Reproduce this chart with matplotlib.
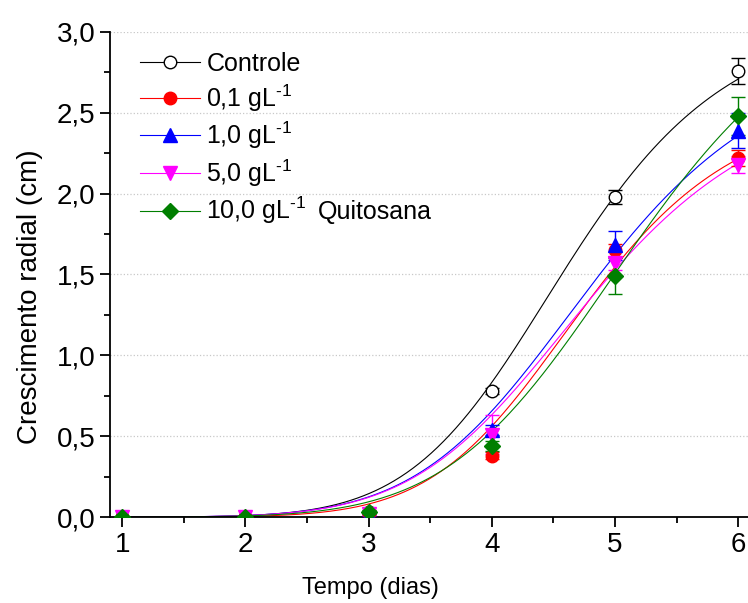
import numpy as np
import matplotlib
matplotlib.use("Agg")
import matplotlib.pyplot as plt
from matplotlib.lines import Line2D
from matplotlib.ticker import MultipleLocator, FuncFormatter

plt.rcParams['font.family'] = ['Liberation Sans', 'DejaVu Sans']
plt.rcParams['mathtext.fontset'] = 'custom'
plt.rcParams['mathtext.rm'] = 'Liberation Sans'
plt.rcParams['mathtext.default'] = 'regular'

# dados
dias = [1, 2, 3, 4, 5, 6]
labels = ["Controle", r"0,1 gL$^{\text{-1}}$", r"1,0 gL$^{\text{-1}}$",
          r"5,0 gL$^{\text{-1}}$", r"10,0 gL$^{\text{-1}}$"]

controle = [0, 0, 0.03, 0.78, 1.98, 2.76]
controle_err = [0, 0, 0.01, 0.02, 0.045, 0.08]
q01 = [0, 0, 0.025, 0.38, 1.65, 2.22]
q01_err = [0, 0, 0.01, 0.02, 0.04, 0.05]
q10 = [0, 0, 0.015, 0.54, 1.68, 2.39]
q10_err = [0, 0, 0.01, 0.03, 0.09, 0.11]
q50 = [0, 0, 0.02, 0.51, 1.57, 2.18]
q50_err = [0, 0, 0.01, 0.12, 0.04, 0.05]
q100 = [0, 0, 0.033, 0.44, 1.49, 2.48]
q100_err = [0, 0, 0.01, 0.03, 0.11, 0.12]

# parametros do ajuste logistico (A2, x0, p), A1 = 0
fit_A = [3.15, 2.6, 2.95, 2.7, 3.45]
fit_x0 = [4.63, 4.75, 4.85, 4.8, 5.2]
fit_p = [7, 7.5, 6.5, 6.5, 6.5]

series = [controle, q01, q10, q50, q100]
errors = [controle_err, q01_err, q10_err, q50_err, q100_err]
colors = ["black", "#ff0000", "#0000ff", "#ff00ff", "#007f00"]
markers = ["o", "o", "^", "v", "D"]
faces = ["white", "#ff0000", "#0000ff", "#ff00ff", "#007f00"]
msizes = [9, 9, 10, 10, 8]

fig = plt.figure(figsize=(7.48, 6.03), dpi=100)
ax = fig.add_axes([0.147, 0.1426, 0.853, 0.8044])

xs = np.linspace(1, 6, 300)
for i in range(len(series)):
    A, x0, p = fit_A[i], fit_x0[i], fit_p[i]
    ys = A * (xs / x0) ** p / (1 + (xs / x0) ** p)
    ax.plot(xs, ys, color=colors[i], lw=0.8, zorder=2)

for i in range(len(series)):
    ax.errorbar(dias, series[i], yerr=errors[i], fmt=markers[i], color=colors[i],
                mfc=faces[i], mec=colors[i], ms=msizes[i], ecolor=colors[i],
                elinewidth=1, capsize=5, capthick=1, zorder=3)

ax.set_xlim(0.9, 6.08)
ax.set_ylim(0, 3.0)
ax.spines['top'].set_visible(False)
ax.spines['right'].set_visible(False)
ax.spines['left'].set_linewidth(1.3)
ax.spines['bottom'].set_linewidth(1.3)

ax.xaxis.set_major_locator(MultipleLocator(1))
ax.xaxis.set_minor_locator(MultipleLocator(0.5))
ax.yaxis.set_major_locator(MultipleLocator(0.5))
ax.yaxis.set_minor_locator(MultipleLocator(0.25))
ax.yaxis.set_major_formatter(FuncFormatter(lambda v, pos: f"{v:.1f}".replace(".", ",")))
ax.tick_params(which='major', direction='out', length=7, width=1.3, labelsize=20)
ax.tick_params(which='minor', direction='out', length=4, width=1.3)
ax.yaxis.grid(True, linestyle=':', color='#c8c8c8', linewidth=0.9)
ax.set_axisbelow(True)

ax.set_ylabel("Crescimento radial (cm)", fontsize=20)
ax.yaxis.set_label_coords((30 - 110) / 638, (517 - 297) / 485)
ax.yaxis.label.set_va('center')
ax.set_xlabel("Tempo (dias)", fontsize=17)
ax.xaxis.set_label_coords((370 - 110) / 638, -(588 - 517) / 485)
ax.xaxis.label.set_va('center')

handles = []
for i in range(len(series)):
    handles.append(Line2D([], [], color=colors[i], lw=0.8, marker=markers[i],
                          mfc=faces[i], mec=colors[i], ms=msizes[i]))
ax.legend(handles, labels, loc='upper left', bbox_to_anchor=(0.02, 0.995),
          frameon=False, fontsize=18, handlelength=2.4, handletextpad=0.25,
          labelspacing=0.25, borderaxespad=0.3)

fig.text(318 / 748, 1 - 212 / 603, "Quitosana", fontsize=18, va='center', ha='left')

fig.savefig("out.png", dpi=100)
